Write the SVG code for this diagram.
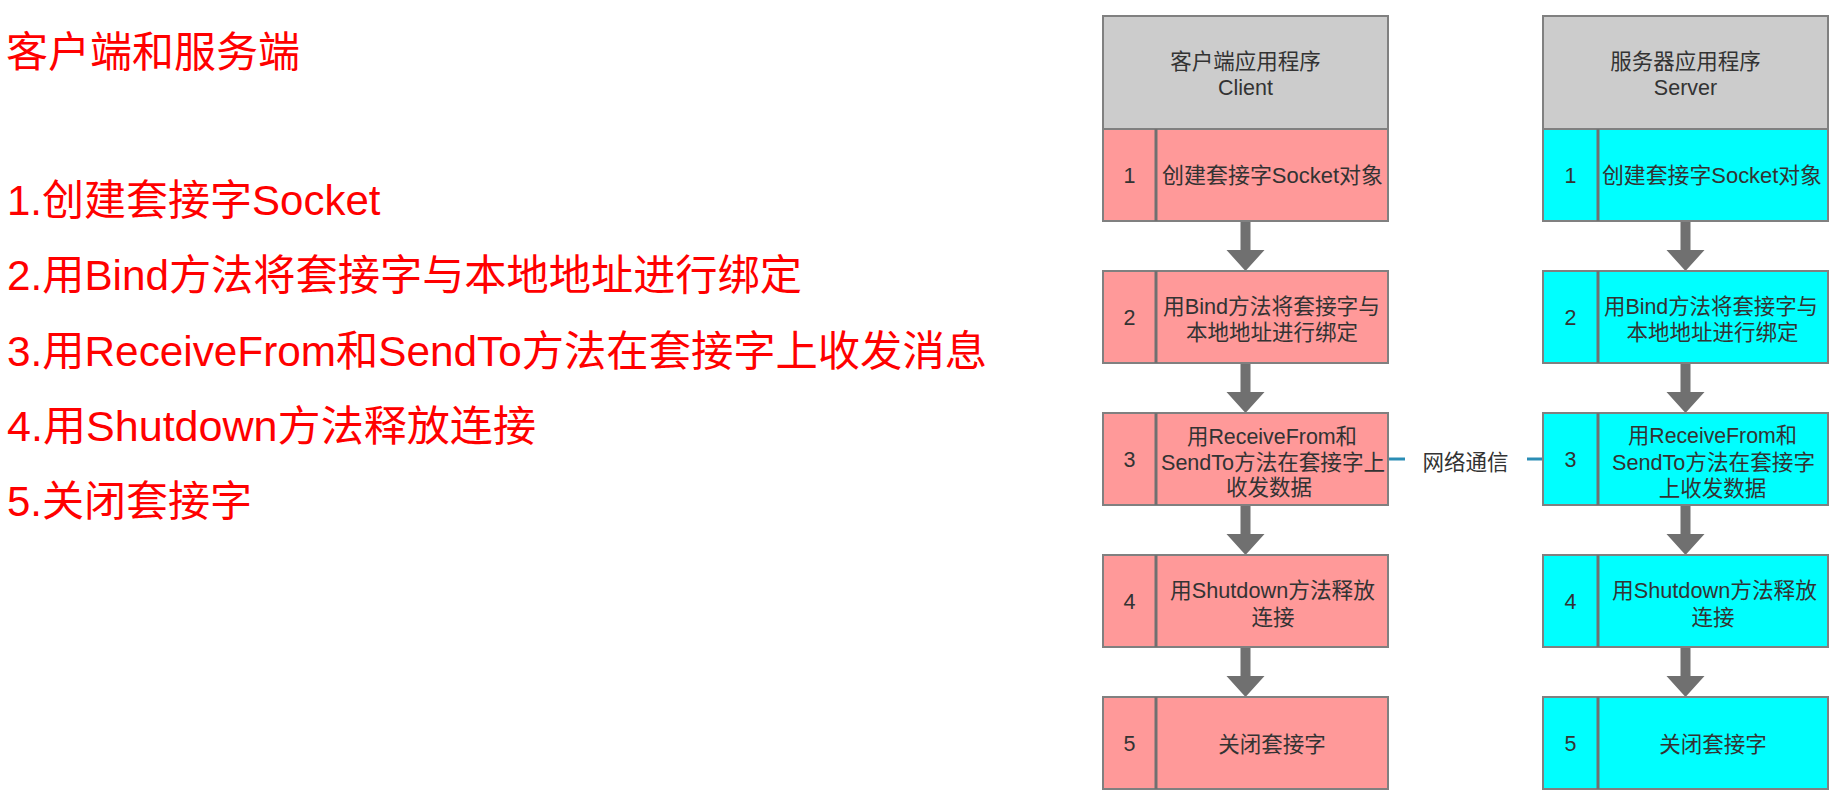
<svg xmlns="http://www.w3.org/2000/svg" width="1836" height="801" viewBox="0 0 1836 801">
<style>
.red{font-family:"Liberation Sans","Noto Sans CJK SC",sans-serif;font-size:42px;fill:#ff0000}
.t{font-family:"Liberation Sans","Noto Sans CJK SC",sans-serif;font-size:21.5px;fill:#333333;text-anchor:middle}
.hdr{fill:#cccccc;stroke:#808080;stroke-width:2}
.pk{fill:#ff9999;stroke:#808080;stroke-width:2}
.cy{fill:#00ffff;stroke:#808080;stroke-width:2}
.div{stroke:#707070;stroke-width:3}
.arr{fill:#707070}
.net{stroke:#2a8db5;stroke-width:3}
</style>
<rect width="1836" height="801" fill="#ffffff"/>
<g id="notes">
<text class="red" x="6" y="67">客户端和服务端</text>
<text class="red" x="7" y="215">1.创建套接字Socket</text>
<text class="red" x="7" y="290" textLength="795" lengthAdjust="spacingAndGlyphs">2.用Bind方法将套接字与本地地址进行绑定</text>
<text class="red" x="7" y="366" textLength="980" lengthAdjust="spacingAndGlyphs">3.用ReceiveFrom和SendTo方法在套接字上收发消息</text>
<text class="red" x="7" y="441" textLength="529" lengthAdjust="spacingAndGlyphs">4.用Shutdown方法释放连接</text>
<text class="red" x="7" y="516">5.关闭套接字</text>
</g>
<g id="connectors">
<path class="arr" d="M1240.5 221H1250.5V250H1264.5L1245.5 271L1226.5 250H1240.5Z"/>
<path class="arr" d="M1240.5 363H1250.5V392H1264.5L1245.5 413L1226.5 392H1240.5Z"/>
<path class="arr" d="M1240.5 505H1250.5V534H1264.5L1245.5 555L1226.5 534H1240.5Z"/>
<path class="arr" d="M1240.5 647H1250.5V676H1264.5L1245.5 697L1226.5 676H1240.5Z"/>
<path class="arr" d="M1680.5 221H1690.5V250H1704.5L1685.5 271L1666.5 250H1680.5Z"/>
<path class="arr" d="M1680.5 363H1690.5V392H1704.5L1685.5 413L1666.5 392H1680.5Z"/>
<path class="arr" d="M1680.5 505H1690.5V534H1704.5L1685.5 555L1666.5 534H1680.5Z"/>
<path class="arr" d="M1680.5 647H1690.5V676H1704.5L1685.5 697L1666.5 676H1680.5Z"/>
<line class="net" x1="1388" y1="459" x2="1405" y2="459"/>
<line class="net" x1="1527" y1="459" x2="1543" y2="459"/>
<text class="t" x="1465.5" y="470">网络通信</text>
</g>
<g id="client-header">
<rect class="hdr" x="1103" y="16" width="285" height="113"/>
<text class="t" x="1245.5" y="69">客户端应用程序</text>
<text class="t" x="1245.5" y="95">Client</text>
</g>
<g id="client-1">
<rect class="pk" x="1103" y="129" width="285" height="92"/>
<line class="div" x1="1156" y1="129" x2="1156" y2="221"/>
<text class="t" x="1129.5" y="183">1</text>
<text class="t" x="1272.5" y="183" textLength="221" lengthAdjust="spacingAndGlyphs">创建套接字Socket对象</text>
</g>
<g id="client-2">
<rect class="pk" x="1103" y="271" width="285" height="92"/>
<line class="div" x1="1156" y1="271" x2="1156" y2="363"/>
<text class="t" x="1129.5" y="325">2</text>
<text class="t" x="1271.5" y="314" textLength="217" lengthAdjust="spacingAndGlyphs">用Bind方法将套接字与</text>
<text class="t" x="1272" y="340">本地地址进行绑定</text>
</g>
<g id="client-3">
<rect class="pk" x="1103" y="413" width="285" height="92"/>
<line class="div" x1="1156" y1="413" x2="1156" y2="505"/>
<text class="t" x="1129.5" y="467">3</text>
<text class="t" x="1272" y="444" textLength="170" lengthAdjust="spacingAndGlyphs">用ReceiveFrom和</text>
<text class="t" x="1273" y="470" textLength="224" lengthAdjust="spacingAndGlyphs">SendTo方法在套接字上</text>
<text class="t" x="1269" y="495">收发数据</text>
</g>
<g id="client-4">
<rect class="pk" x="1103" y="555" width="285" height="92"/>
<line class="div" x1="1156" y1="555" x2="1156" y2="647"/>
<text class="t" x="1129.5" y="609">4</text>
<text class="t" x="1272.5" y="598" textLength="205" lengthAdjust="spacingAndGlyphs">用Shutdown方法释放</text>
<text class="t" x="1273" y="625">连接</text>
</g>
<g id="client-5">
<rect class="pk" x="1103" y="697" width="285" height="92"/>
<line class="div" x1="1156" y1="697" x2="1156" y2="789"/>
<text class="t" x="1129.5" y="751">5</text>
<text class="t" x="1272" y="752">关闭套接字</text>
</g>
<g id="server-header">
<rect class="hdr" x="1543" y="16" width="285" height="113"/>
<text class="t" x="1685.5" y="69">服务器应用程序</text>
<text class="t" x="1685.5" y="95">Server</text>
</g>
<g id="server-1">
<rect class="cy" x="1543" y="129" width="285" height="92"/>
<line class="div" x1="1598" y1="129" x2="1598" y2="221"/>
<text class="t" x="1570.5" y="183">1</text>
<text class="t" x="1712" y="183" textLength="220" lengthAdjust="spacingAndGlyphs">创建套接字Socket对象</text>
</g>
<g id="server-2">
<rect class="cy" x="1543" y="271" width="285" height="92"/>
<line class="div" x1="1598" y1="271" x2="1598" y2="363"/>
<text class="t" x="1570.5" y="325">2</text>
<text class="t" x="1711" y="314" textLength="214" lengthAdjust="spacingAndGlyphs">用Bind方法将套接字与</text>
<text class="t" x="1712.5" y="340">本地地址进行绑定</text>
</g>
<g id="server-3">
<rect class="cy" x="1543" y="413" width="285" height="92"/>
<line class="div" x1="1598" y1="413" x2="1598" y2="505"/>
<text class="t" x="1570.5" y="467">3</text>
<text class="t" x="1712.5" y="443" textLength="169" lengthAdjust="spacingAndGlyphs">用ReceiveFrom和</text>
<text class="t" x="1713.5" y="470" textLength="203" lengthAdjust="spacingAndGlyphs">SendTo方法在套接字</text>
<text class="t" x="1712.5" y="496">上收发数据</text>
</g>
<g id="server-4">
<rect class="cy" x="1543" y="555" width="285" height="92"/>
<line class="div" x1="1598" y1="555" x2="1598" y2="647"/>
<text class="t" x="1570.5" y="609">4</text>
<text class="t" x="1714.5" y="598" textLength="205" lengthAdjust="spacingAndGlyphs">用Shutdown方法释放</text>
<text class="t" x="1713" y="625">连接</text>
</g>
<g id="server-5">
<rect class="cy" x="1543" y="697" width="285" height="92"/>
<line class="div" x1="1598" y1="697" x2="1598" y2="789"/>
<text class="t" x="1570.5" y="751">5</text>
<text class="t" x="1713" y="752">关闭套接字</text>
</g>
</svg>
